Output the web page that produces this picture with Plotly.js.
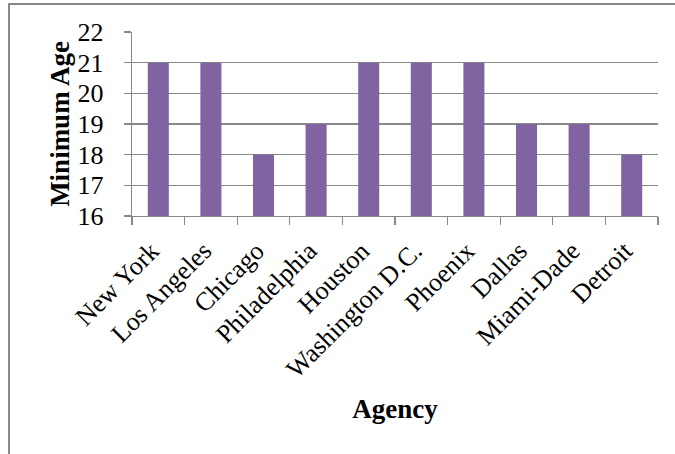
<!DOCTYPE html>
<html>
<head>
<meta charset="utf-8">
<script src="https://cdn.plot.ly/plotly-3.0.1.min.js"></script>
<style>html,body{margin:0;padding:0;background:#fff;}#chart{width:675px;height:454px;}</style>
</head>
<body>
<div id="chart"></div>
<script>
var agencies = ["New York", "Los Angeles", "Chicago", "Philadelphia", "Houston", "Washington D.C.", "Phoenix", "Dallas", "Miami-Dade", "Detroit"];
var minimumAge = [21, 21, 18, 19, 21, 21, 21, 19, 19, 18];
var yTicks = [16, 17, 18, 19, 20, 21, 22];

var font = "'Liberation Serif', 'Times New Roman', serif";
var trace = {
  type: "bar",
  x: agencies,
  y: minimumAge,
  marker: {color: "#8064A2"},
  hoverinfo: "x+y"
};
var layout = {
  width: 675, height: 454,
  margin: {l: 132, r: 17, t: 32, b: 238},
  paper_bgcolor: "#fff", plot_bgcolor: "#fff",
  bargap: 0.6,
  showlegend: false,
  font: {family: font, color: "#000", size: 26},
  xaxis: {
    type: "category",
    tickangle: -45,
    tickson: "boundaries",
    ticks: "outside", ticklen: 8, tickcolor: "#888", tickwidth: 1.3,
    showline: true, linecolor: "#888", linewidth: 1.3,
    showgrid: false,
    tickfont: {family: font, size: 26, color: "#000"},
    ticklabelstandoff: 8,
    ticklabelshift: -7,
    automargin: false,
    title: {text: "<b>Agency</b>", font: {family: font, size: 27, color: "#000"}, standoff: 16}
  },
  yaxis: {
    range: [16, 22],
    tickvals: yTicks,
    ticks: "outside", ticklen: 7, tickcolor: "#888", tickwidth: 1.3,
    showline: true, linecolor: "#888", linewidth: 1.3,
    showgrid: true, gridcolor: "#888", gridwidth: 1.3,
    zeroline: false,
    tickfont: {family: font, size: 26, color: "#000"},
    ticklabelstandoff: 15,
    automargin: false,
    title: {text: "<b>Minimum Age</b>", font: {family: font, size: 27, color: "#000"}, standoff: 0}
  },
  shapes: [{
    type: "rect", xref: "paper", yref: "paper",
    x0: -123/526, x1: 1.5, y0: -2, y1: (216-4)/184,
    line: {color: "#888", width: 2}, fillcolor: "rgba(0,0,0,0)", layer: "below"
  }]
};
Plotly.newPlot("chart", [trace], layout, {displayModeBar: false, staticPlot: true});
</script>
</body>
</html>
